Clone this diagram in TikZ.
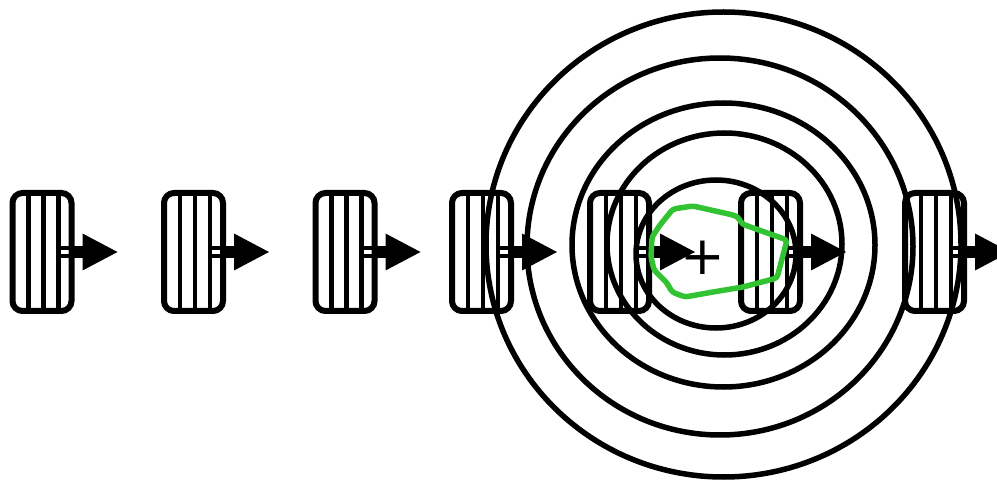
\documentclass[tikz,border=0pt]{standalone}
\usepackage{fontspec}
\newfontfamily\plusfont{DejaVu Sans}
\usepackage{tikz}
\usetikzlibrary{positioning, arrows.meta, calc}
\definecolor{blobgreen}{RGB}{50,195,50}
\newlength{\pxu}
\setlength{\pxu}{0.75pt}

\begin{document}
\begin{tikzpicture}[
    x=0.75pt, y=-0.75pt,
    stripebox/.style={rectangle, draw=black, line width=6\pxu, rounded corners=10\pxu,
                      minimum width=59\pxu, minimum height=118\pxu,
                      inner sep=0pt, outer sep=0pt,
                      path picture={
                        \foreach \f in {0.271,0.525,0.78}
                          \draw[line width=4.5\pxu]
                            ($(path picture bounding box.south west)!\f!(path picture bounding box.south east)$)
                            -- ($(path picture bounding box.north west)!\f!(path picture bounding box.north east)$);
                        \foreach \s in {-4,4}
                          \draw[line width=4.5\pxu]
                            ([yshift=\s\pxu]$(path picture bounding box.west)!0.78!(path picture bounding box.east)$)
                            -- ([yshift=\s\pxu]path picture bounding box.east);
                      }},
    shaft/.style={line width=9pt, -{Triangle[length=26.25pt, width=27.75pt, line width=0pt]}},
    ring/.style={draw=black, line width=5.5\pxu},
    plus/.style={font=\plusfont\fontsize{40}{42}\selectfont, inner sep=0pt},
    blob/.style={draw=blobgreen, line width=5.5\pxu, line join=round, rounded corners=3\pxu},
  ]
    \useasboundingbox (0,0) rectangle (997,481);

    % --- row of striped blocks ---
    \node[stripebox]                     (b1) at (42,252) {};
    \node[stripebox, right=92.5\pxu of b1] (b2) {};
    \node[stripebox, right=92.5\pxu of b2] (b3) {};
    \node[stripebox, right=77.5\pxu of b3] (b4) {};
    \node[stripebox, right=79\pxu of b4]   (b5) {};
    \node[stripebox, right=92\pxu of b5]   (b6) {};
    \node[stripebox, right=105\pxu of b6]  (b7) {};

    % --- arrow ends ---
    \coordinate (t1) at ([xshift=46\pxu]b1.east);
    \coordinate (t2) at ([xshift=46\pxu]b2.east);
    \coordinate (t3) at ([xshift=46\pxu]b3.east);
    \coordinate (t4) at ([xshift=46\pxu]b4.east);
    \coordinate (t5) at ([xshift=46\pxu]b5.east);
    \coordinate (t6) at ([xshift=46\pxu]b6.east);
    \coordinate (t7) at ([xshift=46\pxu]b7.east);

    % --- arrows ---
    \draw[shaft] (b1.east) -- (t1);
    \draw[shaft] (b2.east) -- (t2);
    \draw[shaft] (b3.east) -- (t3);
    \draw[shaft] (b4.east) -- (t4);
    \draw[shaft] (b5.east) -- (t5);
    \draw[shaft] (b6.east) -- (t6);
    \draw[shaft] (b7.east) -- (t7);

    % --- rings ---
    \draw[ring] (723.5,244.5) ellipse [x radius=237.5\pxu, y radius=232.5\pxu];
    \draw[ring] (720,246.5)   ellipse [x radius=193\pxu,   y radius=188.5\pxu];
    \draw[ring] (723.5,245)   ellipse [x radius=151.5\pxu, y radius=142\pxu];
    \draw[ring] (724.5,244)   ellipse [x radius=117.5\pxu, y radius=111\pxu];
    \draw[ring] (716,254)     ellipse [x radius=80\pxu,    y radius=74\pxu];

    % --- plus sign ---
    \node[plus] (sum) at (703,258) {+};

    % --- green outline ---
    \draw[blob] (673,209) -- (693,206) -- (733,215) -- (738,217) -- (742,224)
      -- (787,240) -- (777,278) -- (743,287) -- (713,292) -- (685,297)
      -- (672,292) -- (667,283) -- (662,278) -- (654,270) -- (651,257)
      -- (652,237) -- (660,225) -- cycle;
\end{tikzpicture}
\end{document}
